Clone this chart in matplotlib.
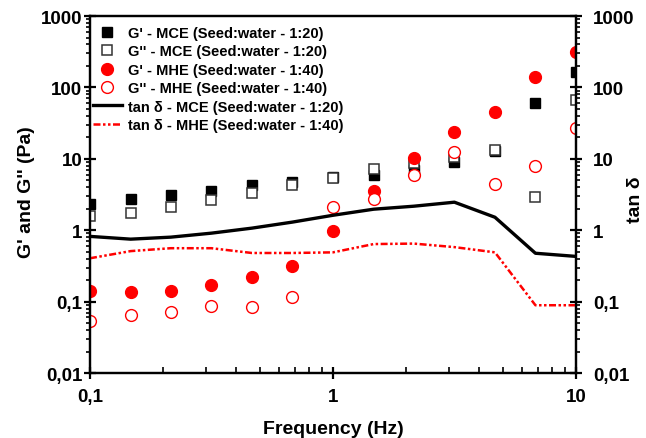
import matplotlib
matplotlib.use("Agg")
import matplotlib.pyplot as plt
from matplotlib.ticker import LogLocator, FixedLocator, NullFormatter

plt.rcParams['font.family'] = ['Liberation Sans', 'DejaVu Sans']
plt.rcParams['font.weight'] = 'bold'

# frequency (Hz)
freq = [0.1, 0.147, 0.215, 0.316, 0.464, 0.681, 1.0, 1.47, 2.15, 3.16, 4.64, 6.81, 10.0]

# moduli (Pa)
g1_mce = [2.3, 2.7, 3.1, 3.6, 4.3, 4.8, 5.5, 5.9, 7.0, 9.0, 13.0, 60, 163]
g2_mce = [1.57, 1.73, 2.1, 2.65, 3.3, 4.3, 5.35, 7.1, 8.7, 10.5, 13.2, 2.9, 66]
g1_mhe = [0.14, 0.135, 0.14, 0.17, 0.22, 0.32, 0.97, 3.5, 10.2, 23.6, 45, 139, 310]
g2_mhe = [0.053, 0.064, 0.071, 0.086, 0.083, 0.115, 2.1, 2.7, 5.9, 12.4, 4.4, 7.9, 27]

# tan delta
tan_mce = [0.82, 0.75, 0.80, 0.91, 1.07, 1.30, 1.62, 1.97, 2.17, 2.47, 1.52, 0.476, 0.43]
tan_mhe = [0.405, 0.51, 0.56, 0.56, 0.48, 0.48, 0.49, 0.64, 0.65, 0.58, 0.49, 0.089, 0.089]

ticks = [0.01, 0.1, 1, 10, 100, 1000]
tick_labels = ['0,01', '0,1', '1', '10', '100', '1000']

fig = plt.figure(figsize=(6.46, 4.39), dpi=100)
ax = fig.add_axes([0.1393, 0.148, 0.7523, 0.8132])
ax2 = ax.twinx()

h1, = ax.plot(freq, g1_mce, 's', color='black', ms=7.5, mec='black', ls='none')
h2, = ax.plot(freq, g2_mce, 's', color='black', ms=7.5, mfc='white', mec='#333333', mew=1.1, ls='none')
h3, = ax.plot(freq, g1_mhe, 'o', color='red', ms=8.5, mec='red', ls='none')
h4, = ax.plot(freq, g2_mhe, 'o', color='red', ms=8.5, mfc='white', mec='red', mew=1.0, ls='none')

h5, = ax2.plot(freq, tan_mce, '-', color='black', lw=2.4)
h6, = ax2.plot(freq, tan_mhe, color='red', lw=1.8, ls=(0, (2.8, 1.0, 1.0, 1.0, 1.0, 1.0)))

for a in (ax, ax2):
    a.set_xscale('log')
    a.set_yscale('log')
    a.set_xlim(0.1, 10)
    a.set_ylim(0.01, 1000)
    a.yaxis.set_major_locator(FixedLocator(ticks))
    a.set_yticklabels(tick_labels)
    a.yaxis.set_minor_locator(LogLocator(base=10, subs=range(2, 10), numticks=20))
    a.yaxis.set_minor_formatter(NullFormatter())
    for s in a.spines.values():
        s.set_linewidth(1.6)
    a.tick_params(axis='y', which='minor', direction='out', length=3, width=1.2)

ax.tick_params(axis='y', which='major', direction='inout', length=9, width=1.6, labelsize=13.5, pad=1)
ax2.tick_params(axis='y', which='major', direction='inout', length=9, width=1.6, labelsize=13.5, pad=8)

ax.set_xticks([0.1, 1, 10])
ax.set_xticklabels(['0,1', '1', '10'])
ax.xaxis.set_minor_locator(LogLocator(base=10, subs=range(2, 10), numticks=20))
ax.xaxis.set_minor_formatter(NullFormatter())
ax.tick_params(axis='x', which='major', direction='inout', length=9, width=1.6, labelsize=13.5, pad=6)
ax.tick_params(axis='x', which='minor', direction='in', length=4, width=1.2)

ax.set_xlabel('Frequency (Hz)', fontsize=14, fontweight='bold', labelpad=11)
ax.set_ylabel("G' and G'' (Pa)", fontsize=14, fontweight='bold')
ax.yaxis.set_label_coords(-0.113, 0.51)
ax2.set_ylabel('tan δ', fontsize=14, fontweight='bold')
ax2.yaxis.set_label_coords(1.104, 0.487)

labels = ["G' - MCE (Seed:water - 1:20)",
          "G'' - MCE (Seed:water - 1:20)",
          "G' - MHE (Seed:water - 1:40)",
          "G'' - MHE (Seed:water - 1:40)",
          "tan δ - MCE (Seed:water - 1:20)",
          "tan δ - MHE (Seed:water - 1:40)"]
leg = ax2.legend([h1, h2, h3, h4, h5, h6], labels, loc='upper left', frameon=False,
                 fontsize=10.5, handlelength=2.0, labelspacing=0.3, borderpad=0.2,
                 borderaxespad=0.0, handletextpad=0.4, bbox_to_anchor=(0.0, 0.98))
for t in leg.get_texts():
    t.set_fontweight('bold')

fig.savefig('out.png', dpi=100)
